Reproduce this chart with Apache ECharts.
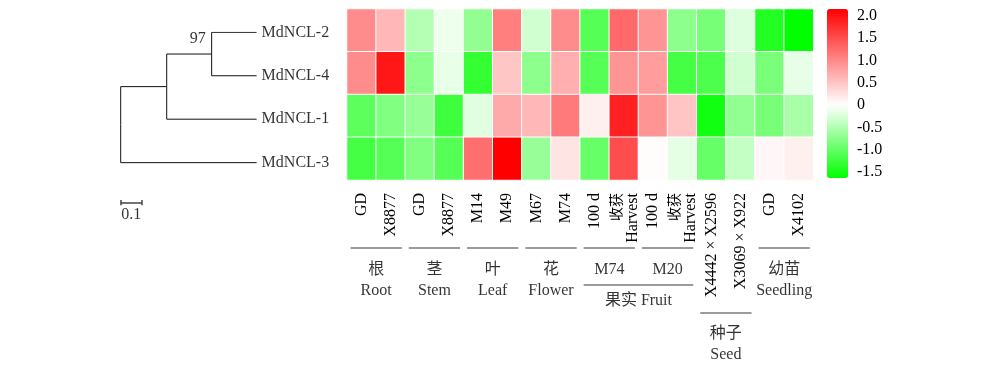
<!DOCTYPE html>
<html><head><meta charset="utf-8">
<script src="https://cdn.jsdelivr.net/npm/echarts@6/dist/echarts.min.js"></script>
<style>html,body{margin:0;padding:0;background:#fff}#c{width:1000px;height:366px}</style>
</head><body><div id="c"></div>
<script>
// ---------------- data ----------------
const genes = ['MdNCL-2', 'MdNCL-4', 'MdNCL-1', 'MdNCL-3'];
const columns = ['GD', 'X8877', 'GD', 'X8877', 'M14', 'M49', 'M67', 'M74', '100 d', '收获\nHarvest', '100 d', '收获\nHarvest', 'X4442 × X2596', 'X3069 × X922', 'GD', 'X4102'];
const valuesNCL2 = [0.97, 0.60, -0.48, -0.11, -0.69, 1.08, -0.30, 0.97, -1.09, 1.26, 0.90, -0.74, -0.87, -0.22, -1.42, -1.64];
const valuesNCL4 = [0.97, 1.96, -0.74, -0.15, -1.31, 0.48, -0.74, 0.67, -1.09, 0.90, 0.84, -1.20, -1.15, -0.30, -0.86, -0.16];
const valuesNCL1 = [-1.05, -0.82, -0.66, -1.25, -0.20, 0.72, 0.60, 1.11, 0.13, 1.87, 0.90, 0.50, -1.53, -0.71, -0.87, -0.56];
const valuesNCL3 = [-1.20, -1.09, -0.82, -1.09, 1.21, 2.15, -0.66, 0.23, -0.98, 1.51, 0.02, -0.17, -0.98, -0.38, 0.06, 0.13];
const geneValues = [valuesNCL2, valuesNCL4, valuesNCL1, valuesNCL3];

const colorMin = -1.64, colorMax = 2.15;
const legendTicks = [2.0, 1.5, 1.0, 0.5, 0, -0.5, -1.0, -1.5];
const legendTickLabels = ['2.0', '1.5', '1.0', '0.5', '0', '-0.5', '-1.0', '-1.5'];

// phylogenetic tree (parent index, branch length)
const treeNodes = ['root', 'n1', 'n2', 'MdNCL-2', 'MdNCL-4', 'MdNCL-1', 'MdNCL-3'];
const treeParents = [-1, 0, 1, 2, 2, 1, 0];
const branchLengths = [0, 0.216, 0.211, 0.211, 0.211, 0.422, 0.638];
const bootstrapValues = [null, null, 97, null, null, null, null];
const scaleBarLength = 0.1;
const scaleBarLabel = '0.1';

// sample groups under the heatmap
const groupLabels = ['根\nRoot', '茎\nStem', '叶\nLeaf', '花\nFlower', 'M74', 'M20', '果实 Fruit', '种子\nSeed', '幼苗\nSeedling'];
const groupFirstCol = [0, 2, 4, 6, 8, 10, 8, 12, 14];
const groupLastCol = [1, 3, 5, 7, 9, 11, 11, 13, 15];
const groupTier = [1, 1, 1, 1, 1, 1, 2, 3, 1];

// ---------------- layout / style ----------------
const FONT = '"Liberation Serif", "Noto Sans CJK SC", serif';
const HM = {left: 347, top: 9, width: 466.3, height: 171};
const colW = HM.width / columns.length;
const tierLineY = {1: 68, 2: 105, 3: 133};
const tierLabelY = {1: 79, 2: 110, 3: 143};

// colour stops: green -> white (at 0) -> red
const stops = [];
const N = 76;
for (let i = 0; i <= N; i++) {
  const v = colorMin + (colorMax - colorMin) * i / N;
  let c;
  if (v < 0) { const t = Math.min(1, v / colorMin); c = [255 * (1 - t), 255, 255 * (1 - t)]; }
  else { const t = Math.min(1, v / colorMax); c = [255, 255 * (1 - t), 255 * (1 - t)]; }
  stops.push('rgb(' + c.map(Math.round).join(',') + ')');
}

const heatData = [];
geneValues.forEach((row, r) => row.forEach((v, c) => heatData.push([c, r, v])));

// tree layout
const children = treeNodes.map(() => []);
treeParents.forEach((p, i) => { if (p >= 0) children[p].push(i); });
const nodeX = [], nodeY = [];
let leafCounter = 0;
function layout(i, x) {
  nodeX[i] = x + branchLengths[i];
  if (children[i].length === 0) { nodeY[i] = leafCounter++; }
  else {
    children[i].forEach(c => layout(c, nodeX[i]));
    const ys = children[i].map(c => nodeY[c]);
    nodeY[i] = (Math.min(...ys) + Math.max(...ys)) / 2;
  }
}
layout(0, 0);
const maxX = Math.max(...nodeX);
const treeEdges = [];
treeParents.forEach((p, i) => {
  if (p < 0) return;
  treeEdges.push({coords: [[nodeX[p], nodeY[p]], [nodeX[p], nodeY[i]], [nodeX[i], nodeY[i]]]});
});
const leafIdx = treeNodes.map((n, i) => i).filter(i => children[i].length === 0);
const bootIdx = treeNodes.map((n, i) => i).filter(i => bootstrapValues[i] != null);
const scaleY = 3.92;
const tickH = 0.06;

const groupLines = groupLabels.map((g, k) => ({coords: [[groupFirstCol[k] + 0.12, tierLineY[groupTier[k]]], [groupLastCol[k] + 0.88, tierLineY[groupTier[k]]]]}));
const groupPts = groupLabels.map((g, k) => ({value: [(groupFirstCol[k] + groupLastCol[k] + 1) / 2, tierLabelY[groupTier[k]]], name: g}));

const chart = echarts.init(document.getElementById('c'), null, {renderer: 'canvas'});
chart.setOption({
  animation: false,
  backgroundColor: '#fff',
  textStyle: {fontFamily: FONT},
  grid: [
    {left: HM.left, top: HM.top, width: HM.width, height: HM.height},
    {left: 120.7, top: 32.3, width: maxX * 213, height: 4 * 43.45},
    {left: 848, top: 9.3, width: 1, height: 169},
    {left: HM.left - colW, top: HM.top + HM.height, width: colW * (columns.length + 2), height: 366 - HM.top - HM.height}
  ],
  xAxis: [
    {type: 'category', gridIndex: 0, data: columns, axisLine: {show: false}, axisTick: {show: false}, splitLine: {show: false},
      axisLabel: {interval: 0, rotate: 90, margin: 13, fontSize: 16, lineHeight: 17, color: '#000', fontFamily: FONT,
        formatter: v => v.replace(/([\u4e00-\u9fff]+)/g, '{cjk|$1}'),
        rich: {cjk: {fontSize: 14, fontFamily: '"Noto Sans CJK SC"', color: '#000', lineHeight: 17}}}},
    {type: 'value', gridIndex: 1, min: 0, max: maxX, show: false},
    {type: 'value', gridIndex: 2, min: 0, max: 1, show: false},
    {type: 'value', gridIndex: 3, min: -1, max: columns.length + 1, show: false}
  ],
  yAxis: [
    {type: 'category', gridIndex: 0, data: genes, inverse: true, show: false},
    {type: 'value', gridIndex: 1, min: 0, max: 4, inverse: true, show: false},
    {type: 'value', gridIndex: 2, min: colorMin, max: colorMax, position: 'right',
      axisLine: {show: false}, axisTick: {show: false}, splitLine: {show: false},
      axisLabel: {customValues: legendTicks, margin: 8, fontSize: 16, color: '#000', fontFamily: FONT,
        formatter: v => { const k = legendTicks.findIndex(t => Math.abs(t - v) < 1e-9); return k >= 0 ? legendTickLabels[k] : ''; }}},
    {type: 'value', gridIndex: 3, min: 0, max: 366 - HM.top - HM.height, inverse: true, show: false}
  ],
  visualMap: {
    type: 'continuous', seriesIndex: 0, min: colorMin, max: colorMax,
    left: 827, top: 9, itemWidth: 21, itemHeight: 169, padding: 0,
    calculable: false, orient: 'vertical', inRange: {color: stops}
  },
  series: [
    {type: 'heatmap', xAxisIndex: 0, yAxisIndex: 0, data: heatData, silent: true,
      itemStyle: {borderColor: '#fff', borderWidth: 1}, emphasis: {disabled: true}, label: {show: false}},
    {type: 'lines', coordinateSystem: 'cartesian2d', xAxisIndex: 1, yAxisIndex: 1, polyline: true, silent: true,
      data: treeEdges, lineStyle: {color: '#111', width: 1, opacity: 1}},
    {type: 'scatter', xAxisIndex: 1, yAxisIndex: 1, symbolSize: 0, silent: true,
      data: leafIdx.map(i => ({value: [nodeX[i], nodeY[i]], name: treeNodes[i]})),
      label: {show: true, position: 'right', distance: 5, formatter: '{b}', fontSize: 16, color: '#000', fontFamily: FONT}},
    {type: 'scatter', xAxisIndex: 1, yAxisIndex: 1, symbolSize: 0, silent: true,
      data: bootIdx.map(i => ({value: [nodeX[i], nodeY[i]], name: String(bootstrapValues[i])})),
      label: {show: true, position: [0, 0], align: 'right', verticalAlign: 'bottom', offset: [-6, -7], formatter: '{b}', fontSize: 16, color: '#000', fontFamily: FONT}},
    {type: 'lines', coordinateSystem: 'cartesian2d', xAxisIndex: 1, yAxisIndex: 1, silent: true,
      data: [
        {coords: [[0, scaleY], [scaleBarLength, scaleY]]},
        {coords: [[0, scaleY - tickH], [0, scaleY + tickH]]},
        {coords: [[scaleBarLength, scaleY - tickH], [scaleBarLength, scaleY + tickH]]}
      ], lineStyle: {color: '#444', width: 1.5, opacity: 1}},
    {type: 'scatter', xAxisIndex: 1, yAxisIndex: 1, symbolSize: 0, silent: true,
      data: [{value: [scaleBarLength / 2, scaleY], name: scaleBarLabel}],
      label: {show: true, position: 'bottom', distance: 4, formatter: '{b}', fontSize: 16, color: '#000', fontFamily: FONT}},
    {type: 'lines', coordinateSystem: 'cartesian2d', xAxisIndex: 3, yAxisIndex: 3, silent: true,
      data: groupLines, lineStyle: {color: '#7a7a7a', width: 1.5, opacity: 1}},
    {type: 'scatter', xAxisIndex: 3, yAxisIndex: 3, symbolSize: 0, silent: true, data: groupPts,
      label: {show: true, position: 'bottom', distance: 0, formatter: '{b}', align: 'center', fontSize: 16, lineHeight: 21, color: '#000', fontFamily: FONT}}
  ]
});
</script>
</body></html>
